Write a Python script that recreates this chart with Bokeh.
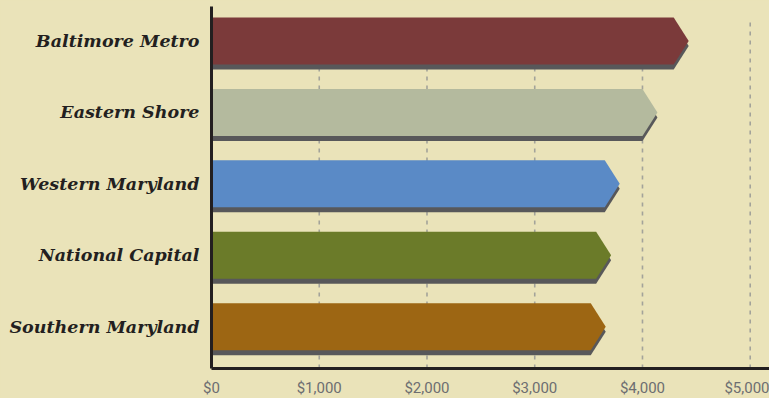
from bokeh.plotting import figure
from bokeh.models import Range1d, FixedTicker, NumeralTickFormatter
from bokeh.embed import file_html
from bokeh.resources import INLINE

# ---- data ----
categories = ["Baltimore Metro", "Eastern Shore", "Western Maryland",
              "National Capital", "Southern Maryland"]
values = [4290, 4000, 3650, 3570, 3520]
colors = ["#7B3A3A", "#B4BA9E", "#5A8AC6", "#6B7B29", "#9D6613"]
x_ticks = [0, 1000, 2000, 3000, 4000, 5000]

# ---- style ----
BG = "#EAE3B9"
SHADOW_COLOR = "#58585A"
AXIS_COLOR = "#231F20"
GRID_COLOR = "#A3A39A"
HALF = 0.329     # half bar height (category units)
TIP = 139        # chevron point length (data units)
SHADOW_DY = 0.07 # shadow vertical offset (category units)

n = len(categories)
ypos = [n - 1 - i for i in range(n)]


def chevron(v, y, dy=0.0):
    xs = [0, v, v + TIP, v, 0]
    ys = [y + HALF - dy, y + HALF - dy, y - dy, y - HALF - dy, y - HALF - dy]
    return xs, ys


p = figure(frame_width=558, frame_height=362, output_backend="svg",
           toolbar_location=None,
           x_range=Range1d(0, 5179), y_range=Range1d(-0.585, 4.483),
           min_border_left=211, min_border_right=0, min_border_top=6,
           min_border_bottom=28,
           background_fill_color=BG, border_fill_color=BG,
           outline_line_color=None)
p.xgrid.visible = False
p.ygrid.visible = False

# dotted vertical grid lines
grid_x = x_ticks[1:]
p.segment(x0=grid_x, x1=grid_x,
          y0=[p.y_range.start] * len(grid_x),
          y1=[ypos[0] + HALF] * len(grid_x),
          line_color=GRID_COLOR, line_width=1.6, line_dash="4 5")

sx, sy, bx, by = [], [], [], []
for v, y in zip(values, ypos):
    xs, ys = chevron(v, y, SHADOW_DY)
    sx.append(xs); sy.append(ys)
    xs, ys = chevron(v, y)
    bx.append(xs); by.append(ys)

p.patches(xs=sx, ys=sy, fill_color=SHADOW_COLOR, line_color=None)
p.patches(xs=bx, ys=by, fill_color=colors, line_color=None)

# x axis
xa = p.xaxis[0]
xa.ticker = FixedTicker(ticks=x_ticks)
xa.formatter = NumeralTickFormatter(format="$0,0")
xa.major_tick_line_color = None
xa.minor_tick_line_color = None
xa.axis_line_width = 3
xa.axis_line_color = AXIS_COLOR
xa.major_label_text_font = "Roboto"
xa.major_label_text_font_size = "15px"
xa.major_label_text_color = "#6D6E71"
xa.major_label_standoff = 4

# y axis
ya = p.yaxis[0]
ya.ticker = FixedTicker(ticks=ypos)
ya.major_label_overrides = {y: c for y, c in zip(ypos, categories)}
ya.major_tick_line_color = None
ya.minor_tick_line_color = None
ya.axis_line_width = 3
ya.axis_line_color = AXIS_COLOR
ya.major_label_text_font = "DejaVu Serif"
ya.major_label_text_font_style = "bold italic"
ya.major_label_text_font_size = "17.5px"
ya.major_label_text_color = AXIS_COLOR
ya.major_label_standoff = 6

html = file_html(p, INLINE)
html = html.replace("</head>", "<style>body{background:%s;}</style></head>" % BG, 1)
open("out.html", "w").write(html)
